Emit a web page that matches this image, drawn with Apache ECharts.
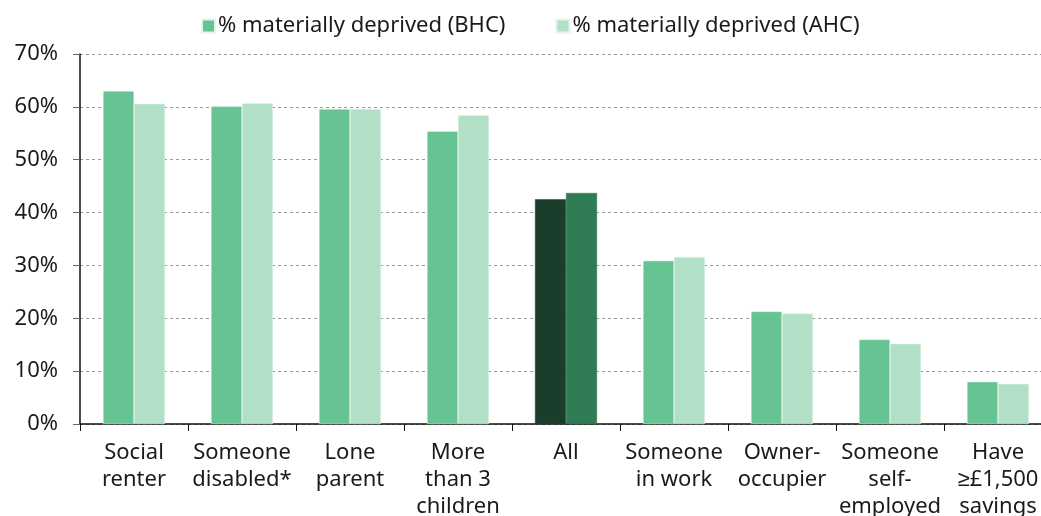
<!DOCTYPE html>
<html>
<head>
<meta charset="utf-8">
<script src="https://cdn.jsdelivr.net/npm/echarts@6/dist/echarts.min.js"></script>
<style>
  html, body { margin: 0; padding: 0; background: #fff; }
  #chart { width: 1041px; height: 516px; }
</style>
</head>
<body>
<div id="chart"></div>
<script>
// categories and values
const categories = ["Social\nrenter", "Someone\ndisabled*", "Lone\nparent", "More\nthan 3\nchildren", "All",
    "Someone\nin work", "Owner-\noccupier", "Someone\nself-\nemployed", "Have\n\u2265\u00a31,500\nsavings"];
const bhcValues = [63.0, 60.1, 59.6, 55.4, 42.5, 30.9, 21.3, 16.0, 8.0];
const ahcValues = [60.6, 60.7, 59.6, 58.4, 43.7, 31.6, 20.9, 15.2, 7.6];
const seriesNames = ["% materially deprived (BHC)", "% materially deprived (AHC)"];
const yTicks = [0, 10, 20, 30, 40, 50, 60, 70];

const highlightIndex = categories.indexOf("All"); // barra resaltada

const chart = echarts.init(document.getElementById("chart"));
const fontFamily = "'Noto Sans', sans-serif";
const textColor = "#1a1a1a";

function buildData(values, highlightColor) {
    return values.map((v, i) => i === highlightIndex
        ? { value: v, itemStyle: { color: highlightColor, borderColor: highlightColor } }
        : v);
}

chart.setOption({
    animation: false,
    textStyle: { fontFamily: fontFamily },
    legend: {
        top: 10,
        left: 196,
        itemWidth: 13,
        itemHeight: 13,
        itemGap: 50,
        icon: "rect",
        textStyle: { fontSize: 22, color: textColor, fontFamily: fontFamily, padding: [0, 0, 0, -2] },
        data: seriesNames
    },
    // la rejilla se sale un poco por la derecha, como en el original
    grid: { left: 80, width: 972, top: 54, bottom: 92, containLabel: false, outerBoundsMode: "none" },
    xAxis: {
        type: "category",
        data: categories,
        axisLine: { lineStyle: { color: "#111", width: 1.5 } },
        axisTick: { show: true, length: 7, lineStyle: { color: "#111" } },
        axisLabel: { color: textColor, fontSize: 22, lineHeight: 27, margin: 15, interval: 0, fontFamily: fontFamily }
    },
    yAxis: {
        type: "value",
        min: yTicks[0],
        max: yTicks[yTicks.length - 1],
        interval: 10,
        axisLine: { show: true, lineStyle: { color: "#111", width: 1.5 } },
        axisTick: { show: true, length: 7, lineStyle: { color: "#666" } },
        axisLabel: { color: textColor, fontSize: 22, margin: 22, formatter: v => v + "%", fontFamily: fontFamily },
        splitLine: { lineStyle: { color: "#999", type: [3, 3], width: 1 } }
    },
    series: [
        {
            name: seriesNames[0],
            type: "bar",
            data: buildData(bhcValues, "#1b3d2b"),
            barWidth: 31,
            barGap: "0%",
            itemStyle: { color: "#66c392", borderColor: "#e6f5ec", borderWidth: 0.5 }
        },
        {
            name: seriesNames[1],
            type: "bar",
            data: buildData(ahcValues, "#2f7b53"),
            barWidth: 31,
            barGap: "0%",
            itemStyle: { color: "#b2e0c7", borderColor: "#e6f5ec", borderWidth: 0.5 }
        }
    ]
});
</script>
</body>
</html>
